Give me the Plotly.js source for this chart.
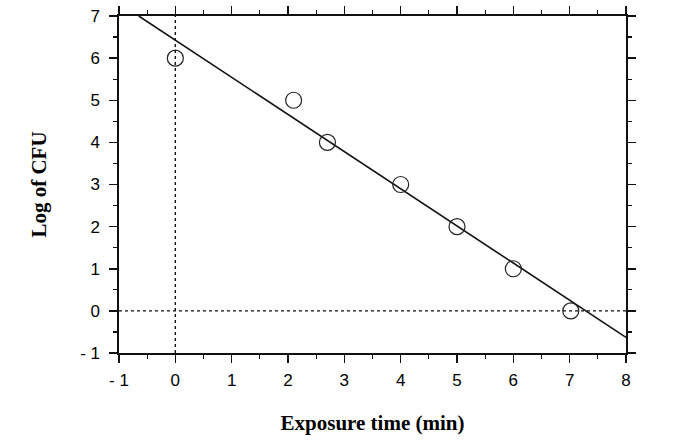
<!DOCTYPE html>
<html>
<head>
<meta charset="utf-8">
<script src="https://cdn.plot.ly/plotly-3.0.1.min.js"></script>
<style>
  html, body { margin: 0; padding: 0; background: #fff; }
  #chart { width: 688px; height: 445px; }
</style>
</head>
<body>
<div id="chart"></div>
<script>
// measured points
const timeMin = [0, 2.1, 2.7, 4, 5, 6, 7.02];
const logCfu = [6, 5, 4, 3, 2, 1, 0];

// fitted line end points
const fitX = [-0.65, 8];
const fitY = [7, -0.63];

const xTicks = [-1, 0, 1, 2, 3, 4, 5, 6, 7, 8];
const xLabels = ['- 1', '0', '1', '2', '3', '4', '5', '6', '7', '8'];
const yTicks = [-1, 0, 1, 2, 3, 4, 5, 6, 7];
const yLabels = ['- 1', '0', '1', '2', '3', '4', '5', '6', '7'];

const tickFont = { family: 'Liberation Sans, Arial, sans-serif', size: 17, color: '#000' };
const titleFont = { family: 'Liberation Serif, Times New Roman, serif', size: 21, color: '#000', weight: 'bold' };

const points = {
  type: 'scatter',
  mode: 'markers',
  x: timeMin,
  y: logCfu,
  marker: { symbol: 'circle-open', size: 16, color: '#222', line: { width: 1.2, color: '#222' } },
  hoverinfo: 'x+y'
};

const fit = {
  type: 'scatter',
  mode: 'lines',
  x: fitX,
  y: fitY,
  line: { color: '#111', width: 1.6 },
  hoverinfo: 'skip'
};

const axisBase = {
  showgrid: false,
  zeroline: false,
  showline: true,
  linecolor: '#111',
  linewidth: 1.6,
  mirror: 'ticks',
  ticks: 'outside',
  ticklen: 8,
  tickwidth: 1.5,
  tickcolor: '#111',
  tickfont: tickFont,
  minor: { dtick: 0.5, ticks: 'outside', ticklen: 4, tickwidth: 1.2, tickcolor: '#111', showgrid: false }
};

const layout = {
  width: 688,
  height: 445,
  margin: { l: 119, r: 62, t: 16, b: 92 },
  paper_bgcolor: '#fff',
  plot_bgcolor: '#fff',
  showlegend: false,
  xaxis: Object.assign({}, axisBase, {
    range: [-1, 8],
    tickmode: 'array',
    tickvals: xTicks,
    ticktext: xLabels,
    ticklabelstandoff: 3,
    title: { text: 'Exposure time (min)', font: titleFont, standoff: 26 }
  }),
  yaxis: Object.assign({}, axisBase, {
    range: [-1, 7],
    tickmode: 'array',
    tickvals: yTicks,
    ticktext: yLabels,
    ticklabelstandoff: 6,
    title: { text: 'Log of CFU', font: titleFont, standoff: 28 }
  }),
  shapes: [
    { type: 'line', xref: 'x', yref: 'y', x0: 0, x1: 0, y0: -1, y1: 7,
      line: { color: '#111', width: 1.4, dash: 'dot' } },
    { type: 'line', xref: 'x', yref: 'y', x0: -1, x1: 8, y0: 0, y1: 0,
      line: { color: '#111', width: 1.4, dash: 'dot' } }
  ]
};

Plotly.newPlot('chart', [fit, points], layout, { displayModeBar: false, staticPlot: true });
</script>
</body>
</html>
